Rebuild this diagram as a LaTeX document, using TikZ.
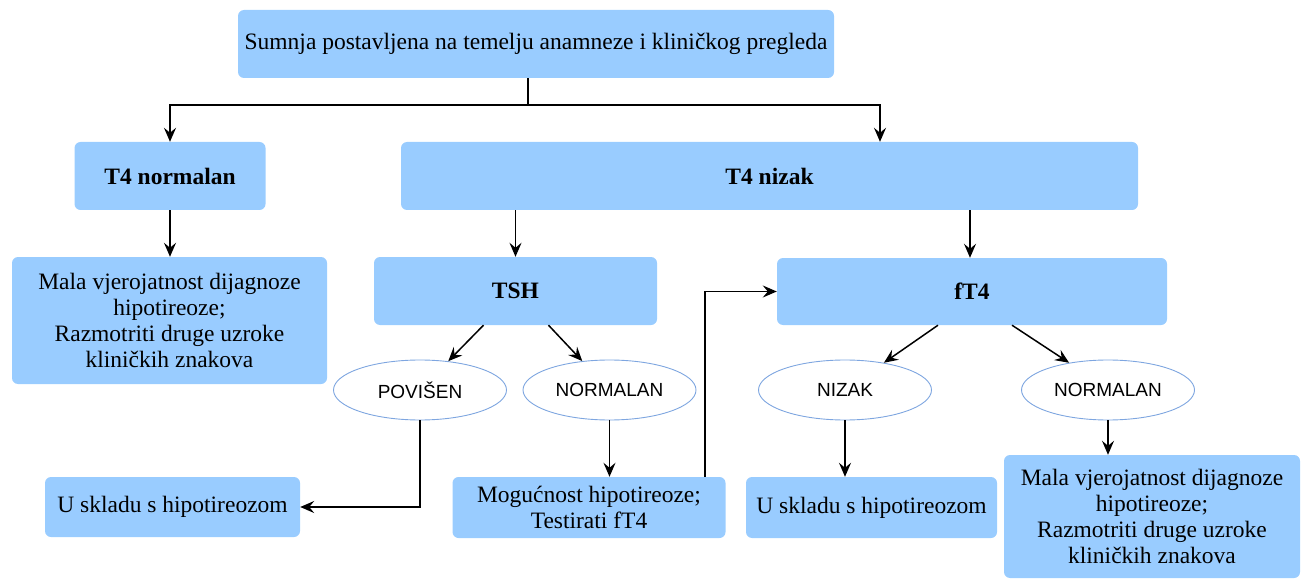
\documentclass[tikz,border=0pt]{standalone}
\usepackage{fontspec}
\setmainfont{Liberation Serif}
\newfontfamily\arialfont{Liberation Sans}
\usetikzlibrary{arrows.meta,shapes.geometric}
\definecolor{boxblue}{HTML}{99CCFF}
\definecolor{ellblue}{HTML}{7EA6E0}
\begin{document}
\begin{tikzpicture}[x=1pt,y=-1pt,
  box/.style={fill=boxblue, rounded corners=6pt, inner sep=0pt, align=center,
    font=\fontsize{23.5}{26}\selectfont},
  boldbox/.style={box, font=\fontsize{23.5}{26}\selectfont\bfseries},
  oval/.style={ellipse, draw=ellblue, line width=0.9pt, fill=white, inner sep=0pt,
    minimum width=173pt, minimum height=60pt, font=\arialfont\fontsize{19}{22}\selectfont},
  arr/.style={-{Stealth[length=14pt,width=12pt,inset=5pt]}, line width=1.5pt},
  ln/.style={line width=1.5pt}]
\useasboundingbox (0,0) rectangle (1309,580);

\node[box, minimum width=596pt, minimum height=68pt] (top) at (536,44)
  {Sumnja postavljena na temelju anamneze i kliničkog pregleda};
\node[boldbox, minimum width=191pt, minimum height=68pt] (t4n) at (170,176) {T4 normalan};
\node[boldbox, minimum width=737pt, minimum height=68pt] (t4l) at (769.5,176) {T4 nizak};
\node[box, minimum width=315pt, minimum height=127pt] (mala1) at (169.5,320.5)
  {Mala vjerojatnost dijagnoze\\hipotireoze;\\Razmotriti druge uzroke\\kliničkih znakova};
\node[boldbox, minimum width=283pt, minimum height=68pt] (tsh) at (515.5,291) {TSH};
\node[boldbox, minimum width=390pt, minimum height=67pt] (ft4) at (972,291.5) {fT4};

\node[oval] (pov) at (420,390) {POVIŠEN};
\node[oval] (norm1) at (609.5,390) {NORMALAN};
\node[oval] (niz) at (845,390) {NIZAK};
\node[oval] (norm2) at (1108,390) {NORMALAN};

\node[box, minimum width=255pt, minimum height=60pt] (usk1) at (172.5,507) {U skladu s hipotireozom};
\node[box, minimum width=273pt, minimum height=61pt] (mog) at (589,507.5) {Mogućnost hipotireoze;\\Testirati fT4};
\node[box, minimum width=251pt, minimum height=61pt] (usk2) at (871.5,507.5) {U skladu s hipotireozom};
\node[box, minimum width=296pt, minimum height=123pt] (mala2) at (1152,516.5)
  {Mala vjerojatnost dijagnoze\\hipotireoze;\\Razmotriti druge uzroke\\kliničkih znakova};

% top branches
\draw[ln] ([xshift=-8pt]top.south) -- ++(0,27) coordinate (j);
\draw[arr] (j) -| (t4n.north);
\draw[arr] (j) -| ([xshift=110.5pt]t4l.north);
\draw[arr] (t4n.south) -- (t4n.south |- mala1.north);
\draw[arr] (tsh.north |- t4l.south) -- (tsh.north);
\draw[arr] ([xshift=-2pt]ft4.north |- t4l.south) -- ([xshift=-2pt]ft4.north);

% TSH
\draw[arr] ([xshift=-32pt]tsh.south) -- (pov);
\draw[arr] ([xshift=33pt]tsh.south) -- (norm1);
% fT4
\draw[arr] ([xshift=-34pt]ft4.south) -- (niz.35);
\draw[arr] ([xshift=40pt]ft4.south) -- (norm2.145);

% results
\draw[arr] (pov.south) |- (usk1.east);
\draw[arr] (norm1.south) -- (norm1.south |- mog.north);
\draw[arr] (niz.south) -- (niz.south |- usk2.north);
\draw[arr] (norm2.south) -- (norm2.south |- mala2.north);
\draw[arr] ([xshift=116pt]mog.north) |- (ft4.west);
\end{tikzpicture}
\end{document}
